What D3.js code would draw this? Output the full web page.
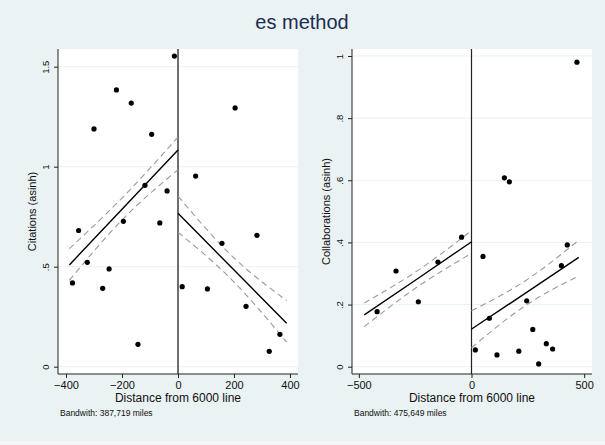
<!DOCTYPE html>
<html>
<head>
<meta charset="utf-8">
<script src="https://d3js.org/d3.v7.min.js"></script>
<style>
  body { margin: 0; background: #eaf2f3; }
  svg { display: block; font-family: "Liberation Sans", Arial, sans-serif; }
</style>
</head>
<body>
<script>
// left panel: citations
const citX = [-377, -355, -324, -300, -269, -246, -220, -195, -167, -143, -118, -94, -65, -39, -13,
              15, 63, 105, 157, 204, 243, 282, 326, 364];
const citY = [0.419, 0.681, 0.522, 1.189, 0.392, 0.489, 1.384, 0.727, 1.318, 0.112, 0.907, 1.162, 0.719, 0.879, 1.553,
              0.40, 0.953, 0.389, 0.617, 1.294, 0.302, 0.657, 0.077, 0.162];
// fitted lines and CI, read at a few points per side
const citFitL = { x: [-388, -194, 0], fit: [0.509, 0.796, 1.083], lo: [0.432, 0.742, 0.985], hi: [0.590, 0.852, 1.148] };
const citFitR = { x: [0, 194, 388], fit: [0.767, 0.492, 0.217], lo: [0.672, 0.432, 0.123], hi: [0.853, 0.552, 0.331] };

// right panel: collaborations
const colX = [-419, -335, -236, -149, -44,
              17, 51, 79, 113, 146, 168, 210, 245, 272, 298, 332, 360, 399, 425, 468];
const colY = [0.177, 0.308, 0.209, 0.337, 0.417,
              0.054, 0.355, 0.156, 0.038, 0.608, 0.595, 0.050, 0.212, 0.120, 0.009, 0.074, 0.057, 0.325, 0.392, 0.980];
const colFitL = { x: [-476, -238, 0], fit: [0.167, 0.284, 0.402], lo: [0.129, 0.258, 0.365], hi: [0.205, 0.310, 0.438] };
const colFitR = { x: [0, 238, 476], fit: [0.121, 0.236, 0.352], lo: [0.061, 0.196, 0.292], hi: [0.180, 0.276, 0.407] };

const citTicksY = [0, 0.5, 1, 1.5];
const citTickLabY = ["0", ".5", "1", "1.5"];
const citTicksX = [-400, -200, 0, 200, 400];
const colTicksY = [0, 0.2, 0.4, 0.6, 0.8, 1];
const colTickLabY = ["0", ".2", ".4", ".6", ".8", "1"];
const colTicksX = [-500, 0, 500];

const width = 605, height = 445;

const svg = d3.select("body").append("svg")
    .attr("width", width)
    .attr("height", height);

svg.append("rect").attr("width", width).attr("height", height).attr("fill", "#eaf2f3");
svg.append("rect").attr("x", 0).attr("y", 441).attr("width", width).attr("height", 4).attr("fill", "#f3f7f8");

// title
svg.append("text")
    .attr("x", 302).attr("y", 29)
    .attr("text-anchor", "middle")
    .style("font-size", "20px")
    .attr("fill", "#1c2d52")
    .text("es method");

function panel(opt) {
    const x = d3.scaleLinear().domain(opt.xDom).range([opt.left, opt.right]);
    const y = d3.scaleLinear().domain(opt.yDom).range([opt.bottom, opt.top]);
    const g = svg.append("g");

    g.append("rect")
        .attr("x", opt.left).attr("y", opt.top)
        .attr("width", opt.right - opt.left).attr("height", opt.bottom - opt.top)
        .attr("fill", "#fff");

    // grid
    g.selectAll(".grid").data(opt.ticksY).enter().append("line")
        .attr("x1", opt.left).attr("x2", opt.right)
        .attr("y1", d => y(d)).attr("y2", d => y(d))
        .attr("stroke", "#eaf2f3").attr("stroke-width", 1);

    // vertical cutoff line
    g.append("line")
        .attr("x1", x(0)).attr("x2", x(0))
        .attr("y1", opt.top).attr("y2", opt.bottom)
        .attr("stroke", opt.cutColor).attr("stroke-width", opt.cutWidth);

    // CI and fit
    const line = d3.line().x(d => x(d[0])).y(d => y(d[1])).curve(d3.curveNatural);
    opt.fits.forEach(f => {
        ["lo", "hi"].forEach(k => {
            g.append("path")
                .attr("d", line(f.x.map((v, i) => [v, f[k][i]])))
                .attr("fill", "none").attr("stroke", "#9a9a9a")
                .attr("stroke-width", 1.1).attr("stroke-dasharray", "6,4");
        });
        g.append("path")
            .attr("d", line(f.x.map((v, i) => [v, f.fit[i]])))
            .attr("fill", "none").attr("stroke", "#000").attr("stroke-width", 1.4);
    });

    // points
    g.selectAll(".pt").data(opt.px.map((v, i) => [v, opt.py[i]])).enter().append("circle")
        .attr("cx", d => x(d[0])).attr("cy", d => y(d[1]))
        .attr("r", 2.6).attr("fill", "#000");

    // axes
    const yAxis = d3.axisLeft(y).tickValues(opt.ticksY).tickSize(4)
        .tickFormat((d, i) => opt.tickLabY[i]);
    const ya = g.append("g").attr("transform", `translate(${opt.left},0)`).call(yAxis);
    ya.select(".domain").attr("d", `M0,${opt.top}V${opt.bottom}`).attr("stroke", "#222");
    ya.selectAll(".tick line").attr("stroke", "#222");
    ya.selectAll(".tick text")
        .attr("transform", "rotate(-90)")
        .attr("x", 0).attr("y", -9)
        .attr("dy", 0)
        .attr("text-anchor", "middle")
        .style("font-size", "9.5px").attr("fill", "#111");

    const xAxis = d3.axisBottom(x).tickValues(opt.ticksX).tickSize(4)
        .tickFormat(d => d < 0 ? "\u2212" + Math.abs(d) : String(d));
    const xa = g.append("g").attr("transform", `translate(0,${opt.bottom})`).call(xAxis);
    xa.select(".domain").attr("d", `M${opt.left},0H${opt.right}`).attr("stroke", "#222");
    xa.selectAll(".tick line").attr("stroke", "#222");
    xa.selectAll(".tick text").attr("y", 7).style("font-size", "11px").attr("fill", "#111");

    g.append("text")
        .attr("transform", `translate(${opt.left - 22},${(opt.top + opt.bottom) / 2}) rotate(-90)`)
        .attr("text-anchor", "middle")
        .style("font-size", "11px").attr("fill", "#111")
        .text(opt.yTitle);

    g.append("text")
        .attr("x", (opt.left + opt.right) / 2).attr("y", 402)
        .attr("text-anchor", "middle")
        .style("font-size", "12px").attr("fill", "#111")
        .text("Distance from 6000 line");

    g.append("text")
        .attr("x", opt.left + 2).attr("y", 416)
        .style("font-size", "8.5px").attr("fill", "#111")
        .text(opt.note);
}

panel({
    left: 58, right: 298, top: 49, bottom: 374,
    xDom: [-428.6, 428.6], yDom: [-0.0365, 1.5885],
    px: citX, py: citY, fits: [citFitL, citFitR],
    ticksY: citTicksY, tickLabY: citTickLabY, ticksX: citTicksX,
    cutColor: "#6e6e6e", cutWidth: 2,
    yTitle: "Citations (asinh)",
    note: "Bandwith: 387,719 miles"
});

panel({
    left: 352, right: 592, top: 49, bottom: 374,
    xDom: [-530.4, 534.8], yDom: [-0.0235, 1.0225],
    px: colX, py: colY, fits: [colFitL, colFitR],
    ticksY: colTicksY, tickLabY: colTickLabY, ticksX: colTicksX,
    cutColor: "#222", cutWidth: 1.2,
    yTitle: "Collaborations (asinh)",
    note: "Bandwith: 475,649 miles"
});
</script>
</body>
</html>
